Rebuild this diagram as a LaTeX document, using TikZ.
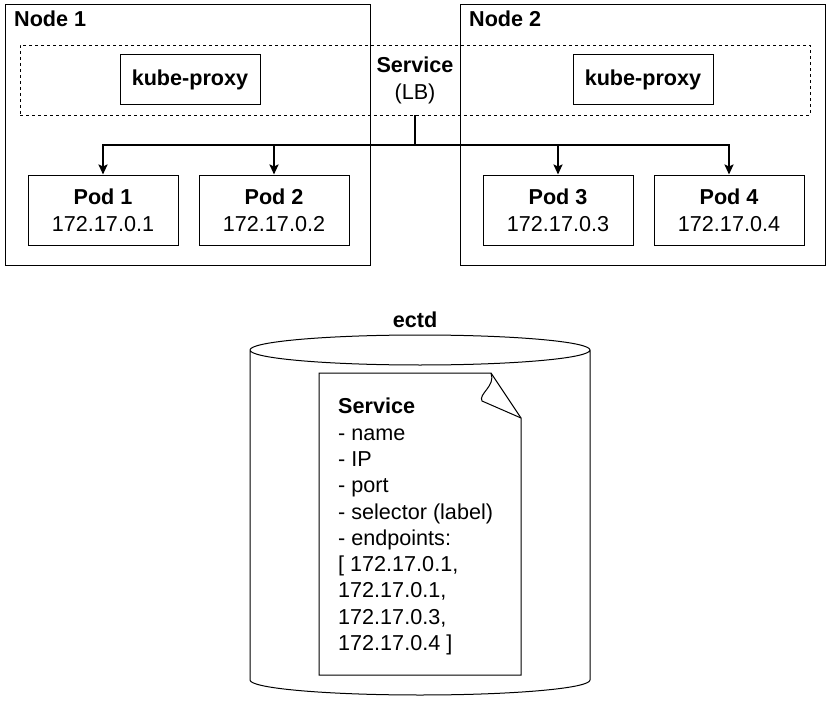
\documentclass[tikz,border=0pt]{standalone}
\usepackage{fontspec}
\setmainfont{Liberation Sans}
\usepackage{tikz}
\usetikzlibrary{arrows.meta, positioning}

\tikzset{
  box/.style={draw, line width=1pt, minimum width=150pt, minimum height=70pt, align=center, inner sep=0pt},
  proxy/.style={draw, line width=1pt, minimum width=140pt, minimum height=50pt, font=\bfseries\fontsize{21.6}{27}\selectfont},
  link/.style={line width=2pt}
}

\begin{document}
\begin{tikzpicture}[x=1pt, y=-1pt, >={Stealth[length=10pt, width=9pt, inset=2pt]},
    font=\fontsize{21.6}{27}\selectfont, node distance=20pt]
  \useasboundingbox (0,0) rectangle (831,701);
  % the two nodes
  \draw[line width=1pt] (5,5) rectangle (370,265);
  \draw[line width=1pt] (460,5) rectangle (825,265);
  \node[anchor=base west, inner sep=0pt, font=\bfseries\fontsize{21.6}{27}\selectfont] (node1) at (14,27) {Node 1};
  \node[anchor=base west, inner sep=0pt, font=\bfseries\fontsize{21.6}{27}\selectfont] (node2) at (469,27) {Node 2};
  % service spanning both nodes
  \node[draw, dashed, line width=0.8pt, minimum width=790pt, minimum height=70pt] (lb) at (415,80) {};
  \node[proxy] (proxy1) at (190,80) {kube-proxy};
  \node[proxy] (proxy2) at (643,80) {kube-proxy};
  \node[align=center, inner sep=0pt] (svc) at (415,80) {\textbf{Service}\\(LB)};
  % pods
  \node[box] (pod1) at (103,210) {\textbf{Pod 1}\\172.17.0.1};
  \node[box, right=of pod1] (pod2) {\textbf{Pod 2}\\172.17.0.2};
  \node[box] (pod3) at (558,210) {\textbf{Pod 3}\\172.17.0.3};
  \node[box, right=of pod3] (pod4) {\textbf{Pod 4}\\172.17.0.4};
  \coordinate (split) at (415,145);
  \draw[link] (lb.south) -- (split);
  \foreach \p in {pod1, pod2, pod3, pod4}
    \draw[link, ->] (split) -| (\p.north);
  % etcd store
  \node[font=\bfseries\fontsize{21.6}{27}\selectfont] (ectd) at (415,320) {ectd};
  \draw[line width=1pt] (250,350) arc[start angle=180, end angle=-180, x radius=170, y radius=15]
    (250,350) -- (250,680) arc[start angle=180, end angle=0, x radius=170, y radius=15] -- (590,350);
  % service record
  \draw[line width=1pt] (319,373) -- (491,373) -- (521,418) -- (521,675) -- (319,675) -- cycle;
  \draw[line width=1pt] (491,373) .. controls (496,386) and (478,394) .. (482,401) -- (521,418);
  \node[anchor=north west, align=left, inner sep=0pt, font=\fontsize{21.6}{26.3}\selectfont] (record) at (338,398)
    {\textbf{Service}\\- name\\- IP\\- port\\- selector (label)\\- endpoints:\\{[} 172.17.0.1,\\172.17.0.1,\\172.17.0.3,\\172.17.0.4 ]};
\end{tikzpicture}
\end{document}
